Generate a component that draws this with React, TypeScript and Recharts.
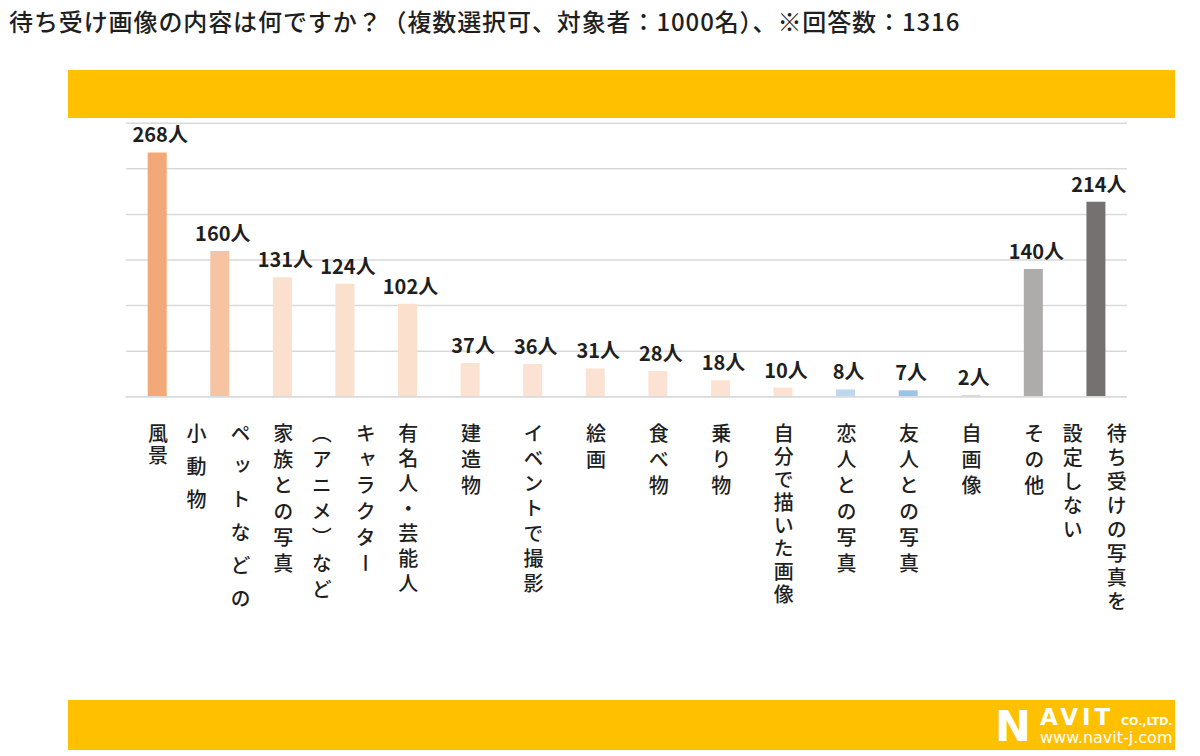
import React from 'react';
import { BarChart, Bar, XAxis, YAxis, CartesianGrid, Cell, LabelList } from 'recharts';

// ---- data ----
const categories = [
  '風景',
  'ペットなどの小動物',
  '家族との写真',
  'キャラクター（アニメ）など',
  '有名人・芸能人',
  '建造物',
  'イベントで撮影',
  '絵画',
  '食べ物',
  '乗り物',
  '自分で描いた画像',
  '恋人との写真',
  '友人との写真',
  '自画像',
  'その他',
  '待ち受けの写真を設定しない',
];
const counts = [268, 160, 131, 124, 102, 37, 36, 31, 28, 18, 10, 8, 7, 2, 140, 214];
// tick label columns (vertical text, first column on the right)
const tickLines = [
  ['風景'],
  ['ペットなどの', '小動物'],
  ['家族との写真'],
  ['キャラクター', '（アニメ）など'],
  ['有名人・芸能人'],
  ['建造物'],
  ['イベントで撮影'],
  ['絵画'],
  ['食べ物'],
  ['乗り物'],
  ['自分で描いた画像'],
  ['恋人との写真'],
  ['友人との写真'],
  ['自画像'],
  ['その他'],
  ['待ち受けの写真を', '設定しない'],
];
const yTicks = [0, 50, 100, 150, 200, 250, 300];
const unit = '人';
const title = '待ち受け画像の内容は何ですか？（複数選択可、対象者：1000名）、※回答数：1316';

// ---- styles ----
const barColors = [
  '#F3A877', '#F6C4A2', '#FBE0CE', '#FBE0CE', '#FBE0CE', '#FBE2D2', '#FBE2D2', '#FBE2D2',
  '#FBE2D2', '#FBE2D2', '#FBE2D2', '#BDD7EE', '#9DC3E6', '#D9D9D9', '#AEABAB', '#767171',
];
const tickSpacing = [2, 13, 6, 6, 5, 6, 5, 6, 6, 6, 3, 6, 6, 6, 6, 4];
const FONT = '"Noto Sans CJK JP", "Noto Sans", sans-serif';
const TEXT = '#1f1f1f';

const data = categories.map((name, i) => ({ name, value: counts[i] }));

const CategoryTick = (props: any) => {
  const { x, y, payload } = props;
  const i = categories.indexOf(payload.value);
  const lines = tickLines[i] || [payload.value];
  const offsets = lines.length === 1 ? [1] : [21, -23];
  return (
    <g>
      {lines.map((ln, k) => (
        <text
          key={k}
          x={x + offsets[k]}
          y={y + 19}
          fontSize={20}
          fontWeight={500}
          fontFamily={FONT}
          fill={TEXT}
          letterSpacing={tickSpacing[i]}
          style={{ writingMode: 'vertical-rl' as any }}
        >
          {ln}
        </text>
      ))}
    </g>
  );
};

const ValueLabel = (props: any) => {
  const { x, y, width, value } = props;
  return (
    <text
      x={x + width / 2 + 3}
      y={y - 10}
      textAnchor="middle"
      fontSize={20}
      fontWeight="bold"
      fontFamily={FONT}
      fill={TEXT}
    >
      {`${value}${unit}`}
    </text>
  );
};

const LOGO_FONT = "'DejaVu Sans', 'Liberation Sans', sans-serif";

export default function App() {
  return (
    <div style={{ position: 'absolute', left: 0, top: 0, width: 1200, height: 756, background: '#fff', overflow: 'hidden' }}>
      <div
        style={{
          position: 'absolute', left: 9, top: 6, fontSize: 24, letterSpacing: 0.9, fontWeight: 500,
          fontFamily: FONT, color: TEXT, whiteSpace: 'nowrap', lineHeight: '30px',
        }}
      >
        {title}
      </div>
      <div style={{ position: 'absolute', left: 68, top: 70, width: 1107, height: 48, background: '#FFC000' }} />
      <div style={{ position: 'absolute', left: 68, top: 700, width: 1107, height: 50, background: '#FFC000' }} />
      <svg style={{ position: 'absolute', left: 990, top: 700, overflow: 'visible' }} width={185} height={50}>
        <text x={5} y={41} fill="#fff" fontSize={43} fontWeight="bold" fontFamily={LOGO_FONT}>N</text>
        <text x={50} y={25} fill="#fff" fontSize={23} fontWeight="bold" letterSpacing={4} fontFamily={LOGO_FONT}>AVIT</text>
        <text x={131} y={25} fill="#fff" fontSize={11} fontWeight="bold" fontFamily={LOGO_FONT}>CO.,LTD.</text>
        <text x={50} y={43} fill="#fff" fontSize={16} fontFamily={LOGO_FONT}>www.navit-j.com</text>
      </svg>
      <div style={{ position: 'absolute', left: 0, top: 0 }}>
        <BarChart
          width={1200}
          height={756}
          data={data}
          margin={{ top: 123.3, right: 73, left: 125.7, bottom: 119.3 }}
          barCategoryGap={0}
        >
          <CartesianGrid vertical={false} stroke="#D9D9D9" strokeWidth={1.5} />
          <YAxis hide domain={[0, 300]} ticks={yTicks} />
          <XAxis
            dataKey="name"
            height={240}
            interval={0}
            tickLine={false}
            axisLine={{ stroke: '#D9D9D9', strokeWidth: 1.5 }}
            tick={<CategoryTick />}
          />
          <Bar dataKey="value" barSize={19} isAnimationActive={false}>
            {data.map((d, i) => (
              <Cell key={d.name} fill={barColors[i]} />
            ))}
            <LabelList dataKey="value" content={<ValueLabel />} />
          </Bar>
        </BarChart>
      </div>
    </div>
  );
}
